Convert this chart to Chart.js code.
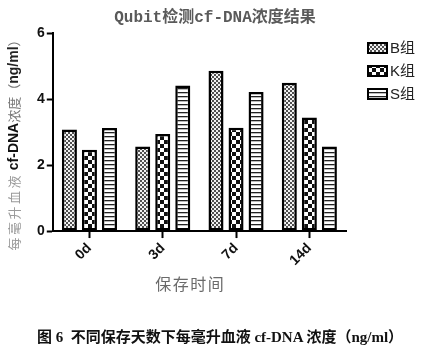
<!DOCTYPE html>
<html><head><meta charset="utf-8">
<script src="https://cdn.jsdelivr.net/npm/chart.js@4"></script>
<style>
html,body{margin:0;padding:0;background:#fff;}
#wrap{position:relative;width:440px;height:355px;overflow:hidden;}
#c{position:absolute;left:0;top:0;}
#cap{position:absolute;left:0;top:325px;width:440px;text-align:center;font:bold 15px "Liberation Serif","Noto Sans CJK SC",serif;color:#111;white-space:nowrap;}
</style></head><body>
<div id="wrap"><canvas id="c" width="440" height="355"></canvas>
<div id="cap">图 6&nbsp;&nbsp;不同保存天数下每毫升血液 cf-DNA 浓度（ng/ml）</div></div>
<script>
const chartTitle = 'Qubit检测cf-DNA浓度结果';
const categories = ['0d', '3d', '7d', '14d'];
const seriesNames = ['B组', 'K组', 'S组'];
const bValues = [3.08, 2.56, 4.86, 4.49];
const kValues = [2.46, 2.94, 3.13, 3.44];
const sValues = [3.12, 4.41, 4.21, 2.56];
const yTicks = [0, 2, 4, 6];
const xTitle = '保存时间';

function makePattern(kind) {
  const c = document.createElement('canvas');
  const g = c.getContext('2d');
  if (kind === 'B') {
    c.width = 4; c.height = 4;
    g.fillStyle = '#f2f2f2'; g.fillRect(0, 0, 4, 4);
    g.fillStyle = '#505050'; g.fillRect(0, 0, 2, 2); g.fillRect(2, 2, 2, 2);
  } else if (kind === 'K') {
    c.width = 8; c.height = 8;
    g.fillStyle = '#ffffff'; g.fillRect(0, 0, 8, 8);
    g.fillStyle = '#111111'; g.fillRect(0, 0, 4, 4); g.fillRect(4, 4, 4, 4);
  } else {
    c.width = 4; c.height = 4;
    g.fillStyle = '#ffffff'; g.fillRect(0, 0, 4, 4);
    g.fillStyle = '#222222'; g.fillRect(0, 0, 4, 1.3);
  }
  return g.createPattern(c, 'repeat');
}

const tickFont = {family: '"Liberation Sans", Arial, sans-serif', size: 14, weight: 'bold'};

const textPlugin = {
  id: 'textCustom',
  afterDraw(chart) {
    const ctx = chart.ctx, ca = chart.chartArea;

    // chart title
    ctx.save();
    ctx.font = 'bold 16px "Liberation Mono", "Noto Sans CJK SC", monospace';
    ctx.fillStyle = '#5a5a5a';
    ctx.textAlign = 'center';
    ctx.textBaseline = 'middle';
    ctx.fillText(chartTitle, chart.width / 2 - 5, ca.top - 15);
    ctx.restore();

    // y axis title with mixed styling
    const segs = [
      {t: '每毫升血液', f: '13px "Noto Sans CJK SC", sans-serif', c: '#9a9a9a', sp: 2.5},
      {t: ' ', f: '13px "Noto Sans CJK SC", sans-serif', c: '#9a9a9a', sp: 0},
      {t: 'cf-DNA', f: 'bold 14px "Liberation Sans", Arial, sans-serif', c: '#111', sp: 0},
      {t: '浓度', f: '13px "Noto Sans CJK SC", sans-serif', c: '#777', sp: 0},
      {t: '（', f: '13px "Noto Sans CJK SC", sans-serif', c: '#777', sp: 0},
      {t: 'ng/ml', f: 'bold 14px "Liberation Sans", Arial, sans-serif', c: '#222', sp: 0},
      {t: '）', f: '13px "Noto Sans CJK SC", sans-serif', c: '#777', sp: 0}
    ];
    ctx.save();
    let total = 0;
    segs.forEach(s => { ctx.font = s.f; s.w = ctx.measureText(s.t).width + s.sp * s.t.length; total += s.w; });
    const cy = (ca.top + ca.bottom) / 2 + 10;
    ctx.translate(ca.left - 39, cy);
    ctx.rotate(-Math.PI / 2);
    ctx.textBaseline = 'middle';
    ctx.textAlign = 'left';
    let x = -total / 2;
    segs.forEach(s => {
      ctx.font = s.f; ctx.fillStyle = s.c;
      if (s.sp) {
        for (const ch of s.t) { ctx.fillText(ch, x, 0); x += ctx.measureText(ch).width + s.sp; }
      } else { ctx.fillText(s.t, x, 0); x += s.w; }
    });
    ctx.restore();

    // x axis title
    ctx.save();
    ctx.font = '16px "Noto Sans CJK SC", sans-serif';
    ctx.fillStyle = '#6a6a6a';
    ctx.textBaseline = 'middle';
    const chars = [...xTitle];
    const sp = 1.5;
    let w = 0; chars.forEach(ch => w += ctx.measureText(ch).width); w += sp * (chars.length - 1);
    let xx = (ca.left + ca.right) / 2 - 10 - w / 2;
    ctx.textAlign = 'left';
    chars.forEach(ch => { ctx.fillText(ch, xx, ca.bottom + 53); xx += ctx.measureText(ch).width + sp; });
    ctx.restore();

    // legend
    ctx.save();
    chart.data.datasets.forEach((ds, i) => {
      const lx = ca.right + 21, ly = ca.top + 9 + i * 23;
      ctx.fillStyle = ds.backgroundColor; ctx.fillRect(lx, ly, 21, 12);
      ctx.strokeStyle = '#000'; ctx.lineWidth = 2; ctx.strokeRect(lx + 1, ly + 1, 19, 10);
      ctx.fillStyle = '#222'; ctx.font = '15px "Liberation Sans", "Noto Sans CJK SC", sans-serif';
      ctx.textBaseline = 'middle'; ctx.textAlign = 'left';
      ctx.fillText(ds.label, lx + 23, ly + 6.5);
    });
    ctx.restore();
  }
};

const mk = (label, data, kind) => ({
  label, data,
  backgroundColor: makePattern(kind),
  borderColor: '#000', borderWidth: 2.5, borderSkipped: false,
  barPercentage: 0.75, categoryPercentage: 0.82
});

new Chart(document.getElementById('c'), {
  type: 'bar',
  data: {
    labels: categories,
    datasets: [
      mk(seriesNames[0], bValues, 'B'),
      mk(seriesNames[1], kValues, 'K'),
      mk(seriesNames[2], sValues, 'S')
    ]
  },
  options: {
    responsive: false, animation: false, devicePixelRatio: 1,
    layout: {padding: {left: 35, right: 94, top: 33, bottom: 84}},
    plugins: {
      legend: {display: false},
      tooltip: {enabled: false},
      title: {display: false}
    },
    scales: {
      x: {
        border: {display: true, color: '#000', width: 2},
        grid: {display: true, offset: false, drawOnChartArea: false, drawTicks: true, tickLength: 7, tickColor: '#000', tickWidth: 2},
        ticks: {minRotation: 45, maxRotation: 45, color: '#111', font: tickFont, padding: 2}
      },
      y: {
        min: 0, max: 6,
        afterBuildTicks: s => { s.ticks = yTicks.map(v => ({value: v})); },
        border: {display: true, color: '#000', width: 2},
        grid: {display: true, drawOnChartArea: false, drawTicks: true, tickLength: 6, tickColor: '#000', tickWidth: 2},
        ticks: {color: '#111', font: tickFont, padding: 2}
      }
    }
  },
  plugins: [textPlugin]
});
</script>
</body></html>
